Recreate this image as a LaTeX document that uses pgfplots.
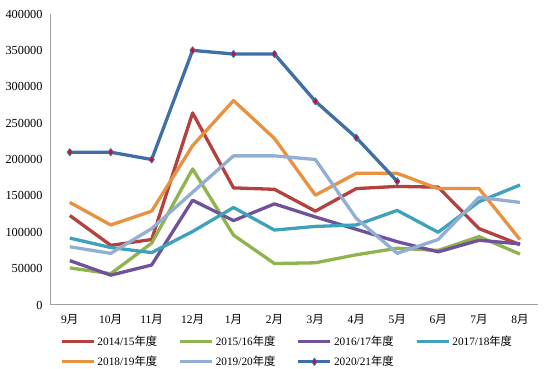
\documentclass[border=0pt]{standalone}
\usepackage{fontspec}
\setmainfont{Liberation Serif}
\newfontfamily\cjk{Noto Sans CJK SC}
\usepackage{pgfplots}
\pgfplotsset{compat=1.18}
\definecolor{cRed}{HTML}{B5413E}
\definecolor{cGreen}{HTML}{8FB34E}
\definecolor{cPurple}{HTML}{70529A}
\definecolor{cTeal}{HTML}{3FA2BA}
\definecolor{cOrange}{HTML}{E8913F}
\definecolor{cLight}{HTML}{93AED3}
\definecolor{cBlue}{HTML}{3F6EA8}
\definecolor{cMark}{HTML}{C8102E}
\begin{document}
\begin{tikzpicture}
\path[use as bounding box] (-51pt,-64pt) rectangle (499pt,305pt);
\begin{axis}[
  scale only axis,
  width=487pt, height=291pt,
  xmin=-0.46, xmax=11.44,
  ymin=0, ymax=400000,
  axis x line=bottom, axis y line=left,
  axis line style={gray!75, line width=1pt, -},
  major tick length=0pt,
  xtick={0,...,11},
  xticklabels={9{\cjk 月},10{\cjk 月},11{\cjk 月},12{\cjk 月},1{\cjk 月},2{\cjk 月},3{\cjk 月},4{\cjk 月},5{\cjk 月},6{\cjk 月},7{\cjk 月},8{\cjk 月}},
  ytick={0,50000,...,400000},
  /pgf/number format/assume math mode=true,
  yticklabel style={/pgf/number format/fixed, /pgf/number format/1000 sep={}, font=\fontsize{12.3}{13}\selectfont, xshift=-5pt},
  scaled y ticks=false,
  xticklabel style={font=\fontsize{11.5}{12}\selectfont, yshift=-6pt},
  legend columns=4,
  legend style={at={(0,0)}, anchor=north west, xshift=9pt, yshift=-29pt, draw=none, fill=none,
    font=\fontsize{11.3}{12}\selectfont, row sep=5pt, inner sep=0pt,
    /tikz/every even column/.append style={column sep=0pt}},
  legend cell align=left,
  legend image code/.code={\draw[#1,mark=none] (0pt,0pt) -- (32pt,0pt); \draw[#1, only marks] plot coordinates {(16pt,0pt)};},
  every axis plot/.append style={line width=3.3pt, line join=round},
]
\addplot[cRed, mark=none] coordinates {(0,123000)(1,82000)(2,90000)(3,264000)(4,161000)(5,159000)(6,129000)(7,160000)(8,163000)(9,162000)(10,105000)(11,83000)};
\addlegendentry{\makebox[79pt][l]{2014/15{\cjk 年度}}}
\addplot[cGreen, mark=none] coordinates {(0,51000)(1,43000)(2,85000)(3,187000)(4,96000)(5,57000)(6,58000)(7,69000)(8,78000)(9,75000)(10,94000)(11,70000)};
\addlegendentry{\makebox[79pt][l]{2015/16{\cjk 年度}}}
\addplot[cPurple, mark=none] coordinates {(0,61000)(1,41000)(2,55000)(3,144000)(4,116000)(5,139000)(6,121000)(7,104000)(8,87000)(9,73000)(10,89000)(11,84000)};
\addlegendentry{\makebox[79pt][l]{2016/17{\cjk 年度}}}
\addplot[cTeal, mark=none] coordinates {(0,92000)(1,79000)(2,72000)(3,101000)(4,134000)(5,103000)(6,108000)(7,110000)(8,130000)(9,100000)(10,142000)(11,165000)};
\addlegendentry{2017/18{\cjk 年度}}
\addplot[cOrange, mark=none] coordinates {(0,141000)(1,110000)(2,129000)(3,219000)(4,281000)(5,229000)(6,151000)(7,181000)(8,181000)(9,160000)(10,160000)(11,90000)};
\addlegendentry{\makebox[79pt][l]{2018/19{\cjk 年度}}}
\addplot[cLight, mark=none] coordinates {(0,80000)(1,71000)(2,105000)(3,155000)(4,205000)(5,205000)(6,200000)(7,119000)(8,71000)(9,90000)(10,148000)(11,141000)};
\addlegendentry{\makebox[79pt][l]{2019/20{\cjk 年度}}}
\addplot[cBlue, mark=diamond*, mark size=3.6pt, mark options={fill=cMark, draw=cBlue, line width=0.8pt}] coordinates {(0,210000)(1,210000)(2,200000)(3,350000)(4,345000)(5,345000)(6,280000)(7,230000)(8,170000)};
\addlegendentry{2020/21{\cjk 年度}}
\end{axis}
\end{tikzpicture}
\end{document}
